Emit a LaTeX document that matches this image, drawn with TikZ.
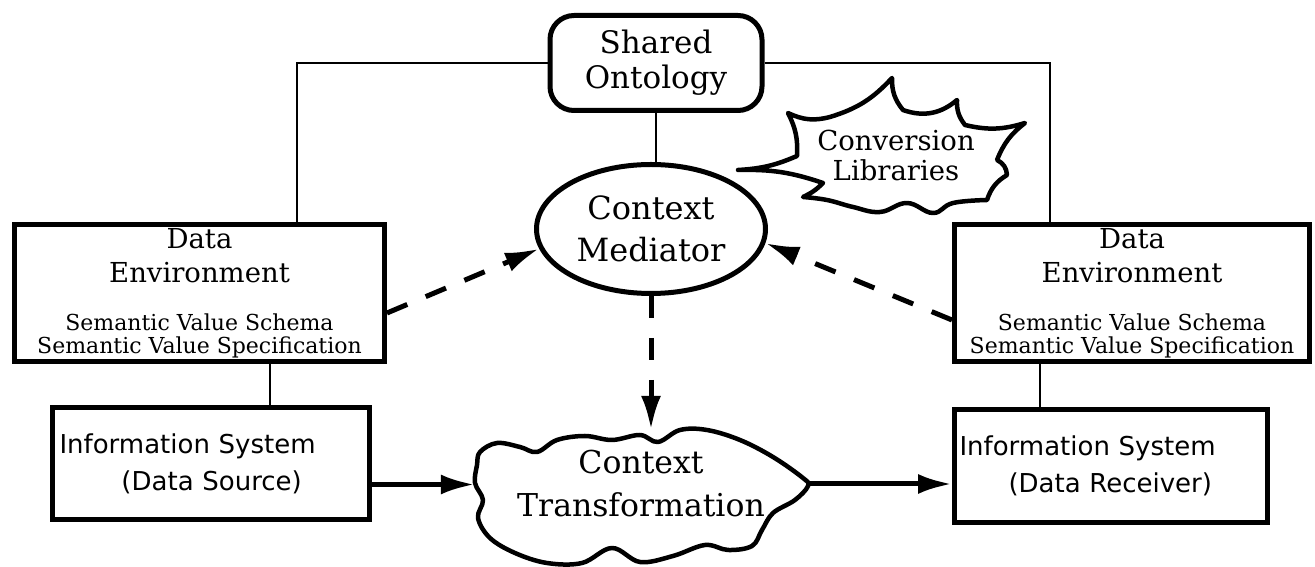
\documentclass[tikz,border=0pt]{standalone}
\usepackage{fontspec}
\setmainfont{DejaVu Serif}
\setsansfont{DejaVu Sans}
\usetikzlibrary{shapes.geometric,arrows.meta}

\newcommand{\ontofnt}{\fontsize{31}{35}\selectfont}
\newcommand{\medfnt}{\fontsize{32}{42}\selectfont}
\newcommand{\envfnt}{\fontsize{27.5}{34}\selectfont}
\newcommand{\schemafnt}{\fontsize{22}{23}\selectfont}
\newcommand{\libfnt}{\fontsize{27.5}{30}\selectfont}
\newcommand{\sysfnt}{\sffamily\fontsize{26}{37}\selectfont}
\newcommand{\transfnt}{\fontsize{31.5}{43}\selectfont}

\tikzset{
	box/.style={draw, line width=5pt, inner sep=0pt, align=center},
	outline/.style={line width=4.5pt, line join=round},
	link/.style={line width=2pt},
	flow/.style={line width=5pt, -{Latex[length=34pt,width=20pt]}},
	query/.style={flow, dash pattern=on 22pt off 20pt},
}

\begin{document}
\begin{tikzpicture}[x=1pt,y=1pt]
		\useasboundingbox (0,0) rectangle (1315,567);

		\node[box, rounded corners=24pt, minimum width=212pt, minimum height=95pt, font=\ontofnt] at (656,504)(onto){Shared\\Ontology};
		\node[box, ellipse, minimum width=229pt, minimum height=129pt, font=\medfnt] at (651,338)(med){Context\\Mediator};
		\node[font=\libfnt, align=center] at (896,412)(conv){Conversion\\Libraries};

		\node[box, minimum width=370pt, minimum height=137pt, font=\envfnt] at (199.5,274)(envL){Data\\Environment\\[14pt]\schemafnt Semantic Value Schema\\[-11pt]\schemafnt Semantic Value Specification};
		\node[box, minimum width=355pt, minimum height=137pt, font=\envfnt] at (1132,274)(envR){Data\\Environment\\[14pt]\schemafnt Semantic Value Schema\\[-11pt]\schemafnt Semantic Value Specification};

		\node[box, minimum width=317pt, minimum height=112pt, text width=303pt, align=left, font=\sysfnt] at (211,103.5)(srcL){Information System\\\hspace*{62pt}(Data Source)};
		\node[box, minimum width=313pt, minimum height=113pt, text width=303pt, align=left, font=\sysfnt] at (1111,101)(recR){Information System\\\hspace*{49pt}(Data Receiver)};

		\node[font=\transfnt, align=center, inner sep=0pt, minimum width=332pt, minimum height=108pt] at (641,83)(trans){Context\\Transformation};

		% cloud round the transformation
		\draw[outline] plot[smooth cycle, tension=0.6] coordinates {
			(480,115) (497,124) (520,120) (537,115) (557,127) (585,131)
			(612,127) (640,132) (658,125) (680,137) (707,137) (740,127)
			(773,110) (803,89) (808,81) (795,67) (773,54) (762,37)
			(752,21) (728,17) (705,22) (673,11) (640,5) (612,19)
			(582,4) (547,4) (515,14) (490,29) (478,49) (483,67)
			(475,84) (477,102)};

		% burst round the libraries
		\draw[outline] (738,397) to[bend right=10] (797,411) to[bend right=15] (788,454)
			to[bend right=20] (830,450) to[bend right=15] (892,489) to[bend right=20] (903,457)
			to[bend right=30] (957,467) to[bend right=20] (965,442) to[bend right=15] (1025,444)
			to[bend right=15] (997,407) to[bend left=30] (1007,392) to[bend right=20] (987,367)
			-- plot[smooth, tension=0.7] coordinates {(987,367) (953,364) (933,354) (907,364) (880,355) (853,360) (827,367) (803,370)}
			to[bend right=10] (823,384) to[bend right=10] (738,397) -- cycle;

		\draw[link] (onto.west) -| ([xshift=97.5pt]envL.north);
		\draw[link] (onto.east) -| ([xshift=-82pt]envR.north);
		\draw[link] (onto.south) -- (onto.south |- med.north);
		\draw[link] ([xshift=70.5pt]envL.south) -- ([xshift=70.5pt]envL.south |- srcL.north);
		\draw[link] ([xshift=-92pt]envR.south) -- ([xshift=-92pt]envR.south |- recR.north);

		\draw[query] ([yshift=-20pt]envL.east) -- (med.190);
		\draw[query] ([yshift=-27pt]envR.west) -- (med.-7);
		\draw[query] (med.south) -- (med.south |- trans.north);

		\draw[flow] ([yshift=-21pt]srcL.east) -- ([yshift=-21pt]srcL.east -| trans.west);
		\draw[flow] (trans.east) -- (trans.east -| recR.west);
	\end{tikzpicture}
\end{document}
